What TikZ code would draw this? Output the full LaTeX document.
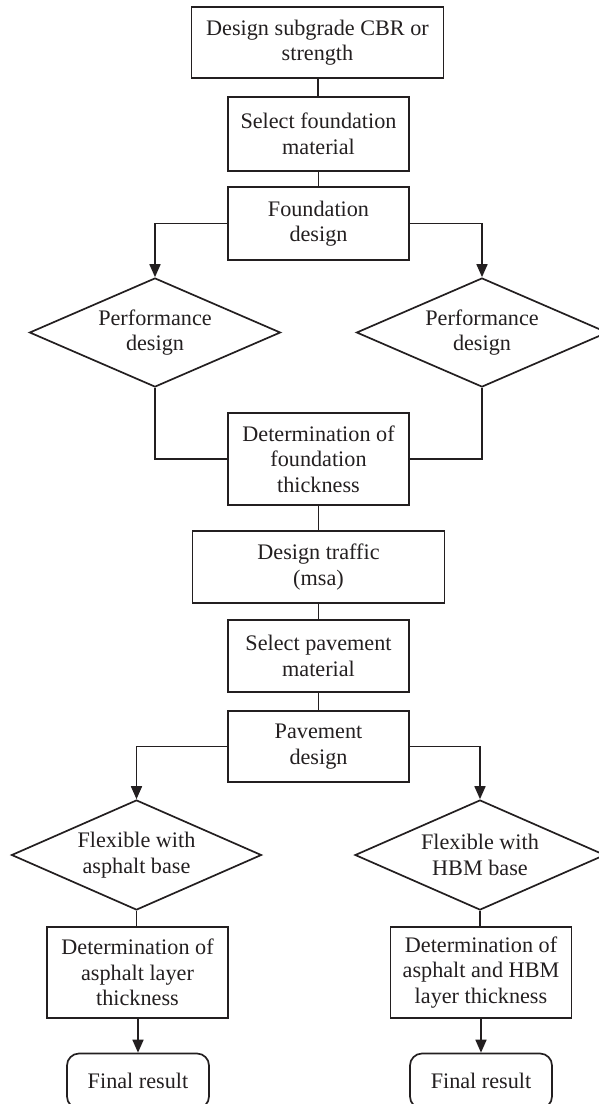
\documentclass[tikz,border=0pt]{standalone}
\usepackage{fontspec}
\setmainfont{Liberation Serif}
\usetikzlibrary{shapes.geometric,arrows.meta}
\definecolor{ink}{HTML}{231F20}
\begin{document}
\begin{tikzpicture}[x=1pt,y=-1pt,
  every node/.style={text=ink,font=\fontsize{22.2}{25.5}\selectfont,align=center,inner sep=0pt},
  stepbox/.style={draw=ink,line width=1.7pt,rectangle,minimum width=181pt},
  widebox/.style={stepbox,minimum width=252pt},
  decision/.style={draw=ink,line width=1.7pt,diamond,aspect=2.6,minimum width=251pt,minimum height=109pt},
  endbox/.style={draw=ink,line width=1.7pt,rectangle,rounded corners=12pt,minimum width=142pt,minimum height=55pt},
  link/.style={draw=ink,line width=1.7pt},
  arr/.style={link,-{Triangle[length=13pt,width=11pt]}}]
\useasboundingbox (0,0) rectangle (598,1104);

% foundation branch
\node[widebox,minimum height=71pt] (subgrade) at (317.5,42.5) {Design subgrade CBR or\\strength};
\node[stepbox,minimum height=74pt] (selfound) at (318.5,134) {Select foundation\\material};
\node[stepbox,minimum height=73pt] (founddes) at (318.5,223.5) {Foundation\\design};
\node[decision] (perfL) at (155,332.5) {Performance\\design};
\node[decision] (perfR) at (482,332.5) {Performance\\design};
\node[stepbox,minimum height=92pt] (foundthk) at (318.5,459) {Determination of\\foundation\\thickness};

% pavement branch
\node[widebox,minimum height=72pt] (traffic) at (318.5,567) {Design traffic\\(msa)};
\node[stepbox,minimum height=72pt] (selpave) at (318.5,656) {Select pavement\\material};
\node[stepbox,minimum height=71pt] (pavedes) at (318.5,746.5) {Pavement\\design};
\node[decision,minimum width=250pt,minimum height=110pt] (flexA) at (136.5,855) {Flexible with\\asphalt base};
\node[decision,minimum width=250pt,minimum height=110pt] (flexH) at (480,855) {Flexible with\\HBM base};
\node[stepbox,minimum height=91pt] (thkA) at (137.5,972.5) {Determination of\\asphalt layer\\thickness};
\node[stepbox,minimum height=91pt] (thkH) at (481,972.5) {Determination of\\asphalt and HBM\\layer thickness};
\node[endbox] (finA) at (138,1081) {Final result};
\node[endbox] (finH) at (481,1081) {Final result};

% connectors
\draw[link] (subgrade) -- (selfound);
\draw[link] (selfound) -- (founddes);
\draw[arr] (founddes.west) -| (perfL.north);
\draw[arr] (founddes.east) -| (perfR.north);
\draw[link] (perfL.south) |- (foundthk.west);
\draw[link] (perfR.south) |- (foundthk.east);
\draw[link] (foundthk) -- (traffic);
\draw[link] (traffic) -- (selpave);
\draw[link] (selpave) -- (pavedes);
\draw[arr] (pavedes.west) -| (flexA.north);
\draw[arr] (pavedes.east) -| (flexH.north);
\draw[link] (flexA.south) -- (flexA.south |- thkA.north);
\draw[link] (flexH.south) -- (flexH.south |- thkH.north);
\draw[arr] (thkA.south -| finA.north) -- (finA.north);
\draw[arr] (thkH.south) -- (thkH.south |- finH.north);
\end{tikzpicture}
\end{document}
